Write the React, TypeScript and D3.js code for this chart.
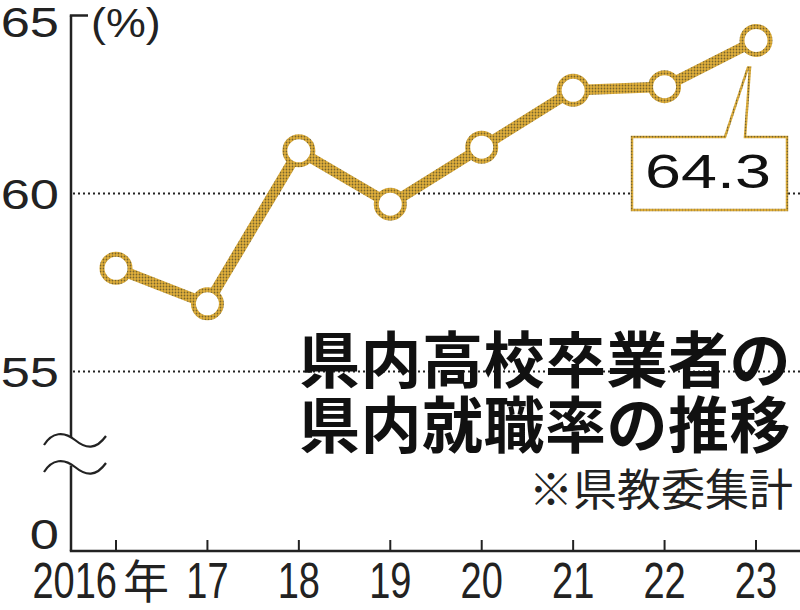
import React from "react";
import * as d3 from "d3";

const years = ["2016", "17", "18", "19", "20", "21", "22", "23"];
const rates = [57.9, 56.9, 61.2, 59.7, 61.3, 62.9, 63.0, 64.3];
const yTicks = [55, 60, 65];
const gridTicks = [55, 60];
const titleLines = ["県内高校卒業者の", "県内就職率の推移"];
const sourceText = "※県教委集計";
const calloutText = "64.3";

const W = 800;
const H = 610;

export default function App() {
  const x = d3.scalePoint<string>().domain(years).range([116, 756]);
  const y = d3.scaleLinear().domain([55, 65]).range([371.5, 15.5]);
  const axisX = 71;
  const baseY = 551;

  const line = d3
    .line<number>()
    .x((_, i) => x(years[i]) as number)
    .y((d) => y(d));

  const lastX = x(years[years.length - 1]) as number;
  const lastY = y(rates[rates.length - 1]);

  const num = "'Liberation Sans', Arial, sans-serif";
  const cjk = "'Noto Sans CJK JP', sans-serif";

  const tilde = (cy: number) =>
    `M44,${cy + 5} C52,${cy - 8} 64,${cy - 9} 75,${cy} S96,${cy + 10} 106,${cy - 4}`;

  return (
    <div style={{ position: "absolute", left: 0, top: 0 }}>
      <svg width={W} height={H} style={{ display: "block", background: "#fff" }}>
        <defs>
          <pattern id="gold" width="3" height="3" patternUnits="userSpaceOnUse">
            <rect width="3" height="3" fill="#e2b03a" />
            <circle cx="1.5" cy="1.5" r="0.9" fill="#76642e" />
          </pattern>
        </defs>

        {/* gridlines */}
        {gridTicks.map((t) => (
          <line
            key={t}
            x1={axisX + 2}
            x2={W}
            y1={y(t)}
            y2={y(t)}
            stroke="#222"
            strokeWidth={2}
            strokeDasharray="2 3"
          />
        ))}

        {/* y axis */}
        <line x1={axisX} x2={axisX} y1={y(65)} y2={baseY} stroke="#222" strokeWidth={2.5} />
        <line x1={axisX - 1.2} x2={88} y1={y(65)} y2={y(65)} stroke="#222" strokeWidth={2.5} />
        {/* x axis */}
        <line x1={axisX - 1.2} x2={W} y1={baseY} y2={baseY} stroke="#222" strokeWidth={2.5} />
        {years.map((yr) => (
          <line
            key={"t" + yr}
            x1={x(yr) as number}
            x2={x(yr) as number}
            y1={baseY}
            y2={baseY - 11}
            stroke="#222"
            strokeWidth={2}
          />
        ))}

        {/* axis break */}
        <path d={`${tilde(440)} L106,${467 - 4} C96,${467 + 10} 84,${467 + 3} 75,${467} S52,${467 - 8} 44,${467 + 5} Z`} fill="#fff" stroke="none" />
        <path d={tilde(440)} fill="none" stroke="#222" strokeWidth={2.2} />
        <path d={tilde(467)} fill="none" stroke="#222" strokeWidth={2.2} />

        {/* y labels */}
        {yTicks.map((t) => (
          <text
            key={"yl" + t}
            transform={`translate(59,${y(t) + (t === 65 ? 21 : 15)}) scale(1.22,1)`}
            textAnchor="end"
            fontFamily={num}
            fontSize={43}
            fill="#222"
          >
            {t}
          </text>
        ))}
        <text
          transform={`translate(59,${baseY - 2}) scale(1.22,1)`}
          textAnchor="end"
          fontFamily={num}
          fontSize={43}
          fill="#222"
        >
          0
        </text>
        <text
          transform={`translate(91,37) scale(1.12,1)`}
          fontFamily={num}
          fontSize={40}
          fill="#222"
        >
          (%)
        </text>

        {/* x labels */}
        {years.map((yr, i) => (
          <g key={"xl" + yr}>
            <text
              transform={
                i === 0
                  ? `translate(${(x(yr) as number) + 1},598) scale(0.76,1)`
                  : `translate(${x(yr) as number},598) scale(0.76,1)`
              }
              textAnchor={i === 0 ? "end" : "middle"}
              fontFamily={num}
              fontSize={50}
              fill="#222"
            >
              {yr}
            </text>
            {i === 0 && (
              <text x={(x(yr) as number) + 7} y={598} fontFamily={cjk} fontSize={46} fill="#222">
                年
              </text>
            )}
          </g>
        ))}

        {/* data line */}
        <path d={line(rates) || ""} fill="none" stroke="url(#gold)" strokeWidth={10.5} strokeLinejoin="round" />
        {rates.map((v, i) => (
          <circle
            key={"c" + i}
            cx={x(years[i]) as number}
            cy={y(v)}
            r={14}
            fill="#fff"
            stroke="url(#gold)"
            strokeWidth={5}
          />
        ))}

        {/* callout */}
        <path
          d={`M632,137 H725 L${lastX - 8},${lastY + 27} L${lastX - 6},${lastY + 27} L745,137 H787 V210 H632 Z`}
          fill="#fff"
          stroke="url(#gold)"
          strokeWidth={2.5}
        />
        <text
          transform={`translate(708,188) scale(1.32,1)`}
          textAnchor="middle"
          fontFamily={num}
          fontSize={49}
          fill="#111"
        >
          {calloutText}
        </text>

        {/* title */}
        {titleLines.map((t, i) => (
          <text
            key={"tt" + i}
            x={791}
            y={383 + i * 65}
            textAnchor="end"
            fontFamily={cjk}
            fontWeight={700}
            fontSize={61}
            letterSpacing={0.5}
            fill="#111"
          >
            {t}
          </text>
        ))}
        <text
          x={793}
          y={506}
          textAnchor="end"
          fontFamily={cjk}
          fontSize={44}
          fill="#222"
        >
          {sourceText}
        </text>
      </svg>
    </div>
  );
}
